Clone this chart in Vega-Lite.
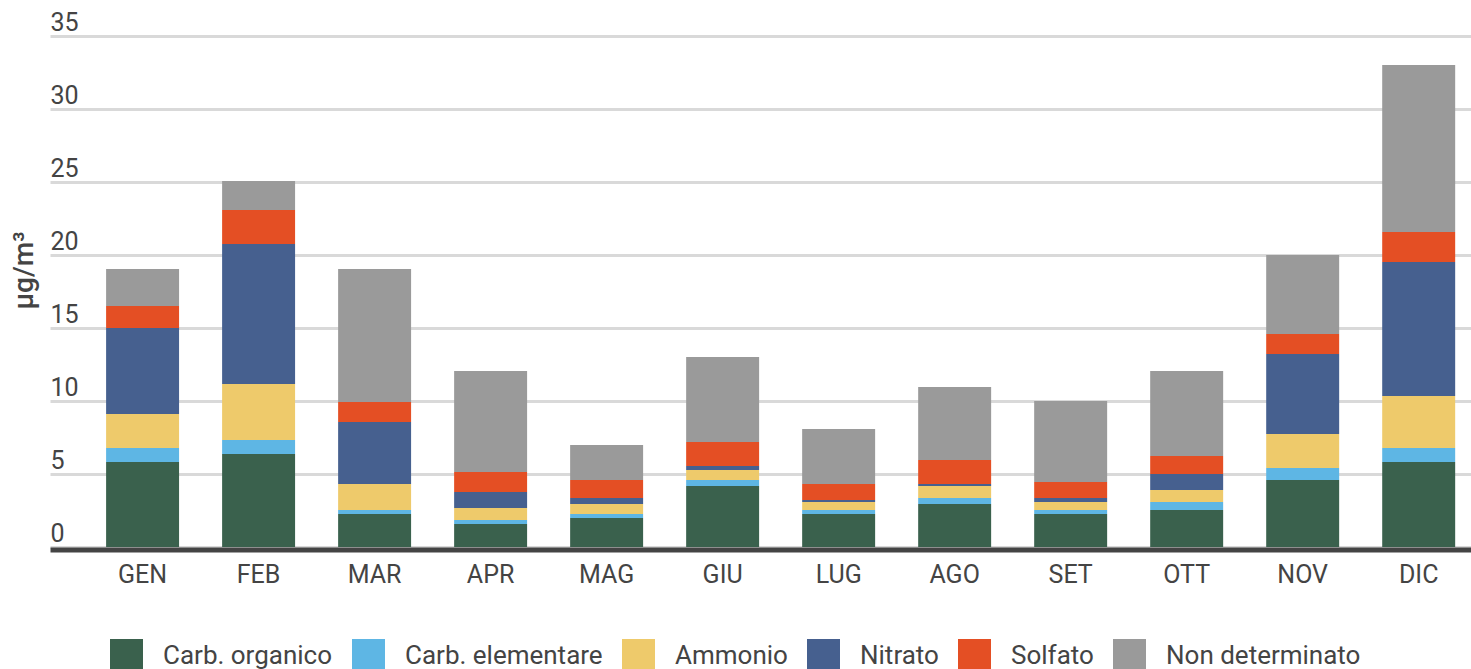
{
  "$schema": "https://vega.github.io/schema/vega-lite/v6.json",
  "width": 1421,
  "height": 511,
  "autosize": {"type": "none"},
  "padding": {"left": 50, "top": 36, "right": 0, "bottom": 122},
  "background": "#ffffff",
  "config": {
    "font": "Roboto",
    "view": {"stroke": null},
    "axis": {"labelColor": "#444444", "titleColor": "#444444"}
  },
  "data": {
    "values": [
      {"mese": "GEN", "comp": "Carb. organico", "k": 1, "v": 5.82},
      {"mese": "GEN", "comp": "Carb. elementare", "k": 2, "v": 0.96},
      {"mese": "GEN", "comp": "Ammonio", "k": 3, "v": 2.33},
      {"mese": "GEN", "comp": "Nitrato", "k": 4, "v": 5.89},
      {"mese": "GEN", "comp": "Solfato", "k": 5, "v": 1.51},
      {"mese": "GEN", "comp": "Non determinato", "k": 6, "v": 2.53},
      {"mese": "FEB", "comp": "Carb. organico", "k": 1, "v": 6.37},
      {"mese": "FEB", "comp": "Carb. elementare", "k": 2, "v": 0.96},
      {"mese": "FEB", "comp": "Ammonio", "k": 3, "v": 3.83},
      {"mese": "FEB", "comp": "Nitrato", "k": 4, "v": 9.59},
      {"mese": "FEB", "comp": "Solfato", "k": 5, "v": 2.33},
      {"mese": "FEB", "comp": "Non determinato", "k": 6, "v": 1.99},
      {"mese": "MAR", "comp": "Carb. organico", "k": 1, "v": 2.26},
      {"mese": "MAR", "comp": "Carb. elementare", "k": 2, "v": 0.27},
      {"mese": "MAR", "comp": "Ammonio", "k": 3, "v": 1.79},
      {"mese": "MAR", "comp": "Nitrato", "k": 4, "v": 4.24},
      {"mese": "MAR", "comp": "Solfato", "k": 5, "v": 1.37},
      {"mese": "MAR", "comp": "Non determinato", "k": 6, "v": 9.11},
      {"mese": "APR", "comp": "Carb. organico", "k": 1, "v": 1.58},
      {"mese": "APR", "comp": "Carb. elementare", "k": 2, "v": 0.27},
      {"mese": "APR", "comp": "Ammonio", "k": 3, "v": 0.82},
      {"mese": "APR", "comp": "Nitrato", "k": 4, "v": 1.10},
      {"mese": "APR", "comp": "Solfato", "k": 5, "v": 1.37},
      {"mese": "APR", "comp": "Non determinato", "k": 6, "v": 6.91},
      {"mese": "MAG", "comp": "Carb. organico", "k": 1, "v": 1.99},
      {"mese": "MAG", "comp": "Carb. elementare", "k": 2, "v": 0.27},
      {"mese": "MAG", "comp": "Ammonio", "k": 3, "v": 0.69},
      {"mese": "MAG", "comp": "Nitrato", "k": 4, "v": 0.41},
      {"mese": "MAG", "comp": "Solfato", "k": 5, "v": 1.23},
      {"mese": "MAG", "comp": "Non determinato", "k": 6, "v": 2.40},
      {"mese": "GIU", "comp": "Carb. organico", "k": 1, "v": 4.18},
      {"mese": "GIU", "comp": "Carb. elementare", "k": 2, "v": 0.41},
      {"mese": "GIU", "comp": "Ammonio", "k": 3, "v": 0.68},
      {"mese": "GIU", "comp": "Nitrato", "k": 4, "v": 0.28},
      {"mese": "GIU", "comp": "Solfato", "k": 5, "v": 1.64},
      {"mese": "GIU", "comp": "Non determinato", "k": 6, "v": 5.82},
      {"mese": "LUG", "comp": "Carb. organico", "k": 1, "v": 2.26},
      {"mese": "LUG", "comp": "Carb. elementare", "k": 2, "v": 0.27},
      {"mese": "LUG", "comp": "Ammonio", "k": 3, "v": 0.55},
      {"mese": "LUG", "comp": "Nitrato", "k": 4, "v": 0.14},
      {"mese": "LUG", "comp": "Solfato", "k": 5, "v": 1.10},
      {"mese": "LUG", "comp": "Non determinato", "k": 6, "v": 3.76},
      {"mese": "AGO", "comp": "Carb. organico", "k": 1, "v": 2.95},
      {"mese": "AGO", "comp": "Carb. elementare", "k": 2, "v": 0.41},
      {"mese": "AGO", "comp": "Ammonio", "k": 3, "v": 0.82},
      {"mese": "AGO", "comp": "Nitrato", "k": 4, "v": 0.14},
      {"mese": "AGO", "comp": "Solfato", "k": 5, "v": 1.64},
      {"mese": "AGO", "comp": "Non determinato", "k": 6, "v": 5.00},
      {"mese": "SET", "comp": "Carb. organico", "k": 1, "v": 2.26},
      {"mese": "SET", "comp": "Carb. elementare", "k": 2, "v": 0.27},
      {"mese": "SET", "comp": "Ammonio", "k": 3, "v": 0.55},
      {"mese": "SET", "comp": "Nitrato", "k": 4, "v": 0.28},
      {"mese": "SET", "comp": "Solfato", "k": 5, "v": 1.09},
      {"mese": "SET", "comp": "Non determinato", "k": 6, "v": 5.55},
      {"mese": "OTT", "comp": "Carb. organico", "k": 1, "v": 2.53},
      {"mese": "OTT", "comp": "Carb. elementare", "k": 2, "v": 0.55},
      {"mese": "OTT", "comp": "Ammonio", "k": 3, "v": 0.82},
      {"mese": "OTT", "comp": "Nitrato", "k": 4, "v": 1.10},
      {"mese": "OTT", "comp": "Solfato", "k": 5, "v": 1.23},
      {"mese": "OTT", "comp": "Non determinato", "k": 6, "v": 5.82},
      {"mese": "NOV", "comp": "Carb. organico", "k": 1, "v": 4.59},
      {"mese": "NOV", "comp": "Carb. elementare", "k": 2, "v": 0.82},
      {"mese": "NOV", "comp": "Ammonio", "k": 3, "v": 2.33},
      {"mese": "NOV", "comp": "Nitrato", "k": 4, "v": 5.48},
      {"mese": "NOV", "comp": "Solfato", "k": 5, "v": 1.37},
      {"mese": "NOV", "comp": "Non determinato", "k": 6, "v": 5.41},
      {"mese": "DIC", "comp": "Carb. organico", "k": 1, "v": 5.82},
      {"mese": "DIC", "comp": "Carb. elementare", "k": 2, "v": 0.96},
      {"mese": "DIC", "comp": "Ammonio", "k": 3, "v": 3.56},
      {"mese": "DIC", "comp": "Nitrato", "k": 4, "v": 9.18},
      {"mese": "DIC", "comp": "Solfato", "k": 5, "v": 2.06},
      {"mese": "DIC", "comp": "Non determinato", "k": 6, "v": 11.43}
    ]
  },
  "mark": {"type": "bar"},
  "encoding": {
    "x": {
      "field": "mese",
      "type": "nominal",
      "sort": null,
      "scale": {"paddingInner": 0.371, "paddingOuter": 0.31, "align": 0.78},
      "axis": {
        "title": null,
        "labelAngle": 0,
        "labelFontSize": 25,
        "labelColor": "#444444",
        "labelPadding": 13,
        "ticks": false,
        "tickSize": 0,
        "domain": true,
        "domainColor": "#444444",
        "domainWidth": 5,
        "offset": 2.5,
        "grid": false
      }
    },
    "y": {
      "field": "v",
      "type": "quantitative",
      "stack": "zero",
      "scale": {"domain": [0, 35], "nice": false},
      "axis": {
        "title": "µg/m³",
        "titleFontSize": 28,
        "titleFontWeight": 500,
        "titleColor": "#444444",
        "titleX": -26,
        "titleY": 234,
        "titleAngle": 270,
        "titleAlign": "center",
        "titleBaseline": "middle",
        "values": [0, 5, 10, 15, 20, 25, 30, 35],
        "domain": false,
        "ticks": false,
        "tickSize": 0,
        "labelPadding": 0,
        "labelAlign": "left",
        "labelBaseline": "alphabetic",
        "labelOffset": -6,
        "labelFontSize": 25,
        "labelColor": "#444444",
        "grid": true,
        "gridColor": "#d9d9d9",
        "gridWidth": 3
      }
    },
    "color": {
      "field": "comp",
      "type": "nominal",
      "scale": {
        "domain": ["Carb. organico", "Carb. elementare", "Ammonio", "Nitrato", "Solfato", "Non determinato"],
        "range": ["#3a614d", "#5eb6e4", "#eeca6b", "#46608f", "#e44f24", "#9a9a9a"]
      },
      "legend": {
        "title": null,
        "orient": "none",
        "direction": "horizontal",
        "legendX": 60,
        "legendY": 603,
        "padding": 0,
        "symbolType": "square",
        "symbolSize": 1089,
        "symbolStrokeWidth": 0,
        "symbolOpacity": 1,
        "labelFontSize": 26,
        "labelColor": "#444444",
        "labelOffset": 20,
        "columnPadding": 19,
        "labelLimit": 400
      }
    },
    "order": {"field": "k", "type": "quantitative", "sort": "ascending"}
  }
}
